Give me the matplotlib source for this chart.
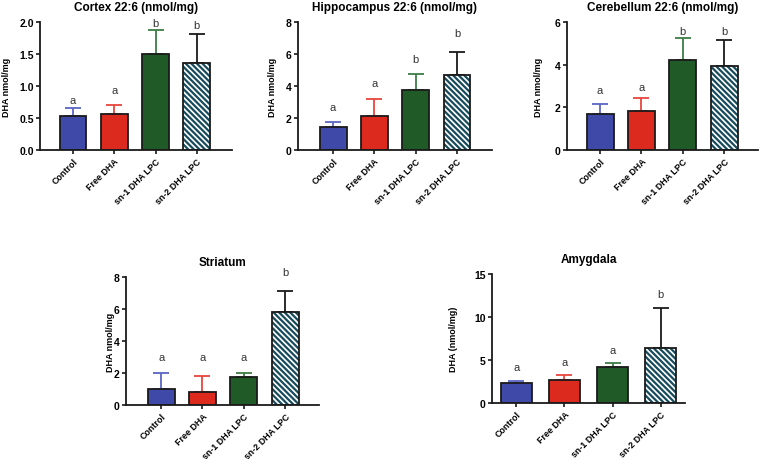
import matplotlib
matplotlib.use('Agg')
import matplotlib.pyplot as plt

plt.rcParams['font.family'] = ['Liberation Sans', 'DejaVu Sans']
plt.rcParams['hatch.linewidth'] = 1.6

# groups and colours
groups = ['Control', 'Free DHA', 'sn-1 DHA LPC', 'sn-2 DHA LPC']
bar_colors = ['#3f4aa8', '#dd2a1e', '#1f5a27', 'white']
err_colors = ['#5b66c4', '#e8453c', '#3b7d45', '#1a1a1a']
hatch_color = '#174b5c'

# values (mean, upper error, letter height, letter)
cortex_mean = [0.53, 0.57, 1.50, 1.36]
cortex_err = [0.12, 0.13, 0.37, 0.45]
cortex_lab_y = [0.78, 0.94, 1.98, 1.95]
cortex_lab = ['a', 'a', 'b', 'b']

hippo_mean = [1.45, 2.12, 3.73, 4.70]
hippo_err = [0.30, 1.08, 0.99, 1.43]
hippo_lab_y = [2.7, 4.2, 5.7, 7.3]
hippo_lab = ['a', 'a', 'b', 'b']

cereb_mean = [1.69, 1.82, 4.23, 3.93]
cereb_err = [0.47, 0.63, 1.01, 1.21]
cereb_lab_y = [2.8, 2.95, 5.6, 5.6]
cereb_lab = ['a', 'a', 'b', 'b']

stria_mean = [1.0, 0.82, 1.76, 5.83]
stria_err = [1.0, 0.98, 0.24, 1.27]
stria_lab_y = [3.0, 3.0, 3.0, 8.3]
stria_lab = ['a', 'a', 'a', 'b']

amyg_mean = [2.35, 2.70, 4.15, 6.45]
amyg_err = [0.25, 0.50, 0.45, 4.55]
amyg_lab_y = [4.2, 4.8, 6.2, 12.7]
amyg_lab = ['a', 'a', 'a', 'b']

W, H = 759, 460
fig = plt.figure(figsize=(W / 100, H / 100), dpi=100)


def panel(left, right, top, bottom, title, ylabel, ylab_px, means, errs, lab_y, labs,
          yticks, ytick_fmt, xlim, width):
    ax = fig.add_axes([left / W, 1 - bottom / H, (right - left) / W, (bottom - top) / H])
    x = list(range(len(groups)))
    for i in x:
        ax.errorbar(i, means[i], yerr=[[0], [errs[i]]], color=err_colors[i],
                    capsize=6, capthick=1.3, elinewidth=1.3, zorder=1)
        if i == 3:
            # hatched bar: hatch in teal, outline drawn separately
            ax.bar(i, means[i], width=width, color='white', edgecolor=hatch_color,
                   hatch='\\\\\\\\\\\\', linewidth=0, zorder=2)
            ax.bar(i, means[i], width=width, fill=False, edgecolor='#1a1a1a',
                   linewidth=1.3, zorder=3)
        else:
            ax.bar(i, means[i], width=width, color=bar_colors[i], edgecolor='#1a1a1a',
                   linewidth=1.3, zorder=2)
        ax.text(i, lab_y[i], labs[i], ha='center', va='center', fontsize=8,
                color='#333333', clip_on=False)
    ax.set_xlim(xlim)
    ax.set_ylim(yticks[0], yticks[-1])
    ax.set_yticks(yticks)
    ax.set_yticklabels([ytick_fmt.format(t) for t in yticks], fontsize=7.5, fontweight='bold')
    ax.set_xticks(x)
    ax.set_xticklabels(groups, rotation=45, ha='right', rotation_mode='anchor',
                       fontsize=6.4, fontweight='bold')
    for s in ['top', 'right']:
        ax.spines[s].set_visible(False)
    for s in ['left', 'bottom']:
        ax.spines[s].set_linewidth(1.3)
        ax.spines[s].set_color('#1a1a1a')
    ax.tick_params(axis='both', length=3, width=1.2, color='#1a1a1a', pad=1.5)
    ax.set_title(title, fontsize=8.5, fontweight='bold', pad=9)
    ax.set_ylabel(ylabel, fontsize=6.5, fontweight='bold')
    ax.yaxis.set_label_coords((ylab_px - left) / (right - left), 0.5)
    return ax


panel(40, 232, 23, 151, 'Cortex 22:6 (nmol/mg)', 'DHA nmol/mg', 11,
      cortex_mean, cortex_err, cortex_lab_y, cortex_lab,
      [0, 0.5, 1.0, 1.5, 2.0], '{:.1f}', (-0.8, 3.85), 0.65)
panel(298, 492, 23, 151, 'Hippocampus 22:6 (nmol/mg)', 'DHA nmol/mg', 277,
      hippo_mean, hippo_err, hippo_lab_y, hippo_lab,
      [0, 2, 4, 6, 8], '{:d}', (-0.85, 3.85), 0.65)
panel(567, 758, 23, 151, 'Cerebellum 22:6 (nmol/mg)', 'DHA nmol/mg', 543,
      cereb_mean, cereb_err, cereb_lab_y, cereb_lab,
      [0, 2, 4, 6], '{:d}', (-0.8, 3.82), 0.65)
panel(126, 319, 278, 406, 'Striatum', 'DHA nmol/mg', 115,
      stria_mean, stria_err, stria_lab_y, stria_lab,
      [0, 2, 4, 6, 8], '{:d}', (-0.85, 3.82), 0.65)
panel(492, 685, 275, 404, 'Amygdala', 'DHA (nmol/mg)', 458,
      amyg_mean, amyg_err, amyg_lab_y, amyg_lab,
      [0, 5, 10, 15], '{:d}', (-0.5, 3.5), 0.64)

fig.savefig('out.png', dpi=100)
